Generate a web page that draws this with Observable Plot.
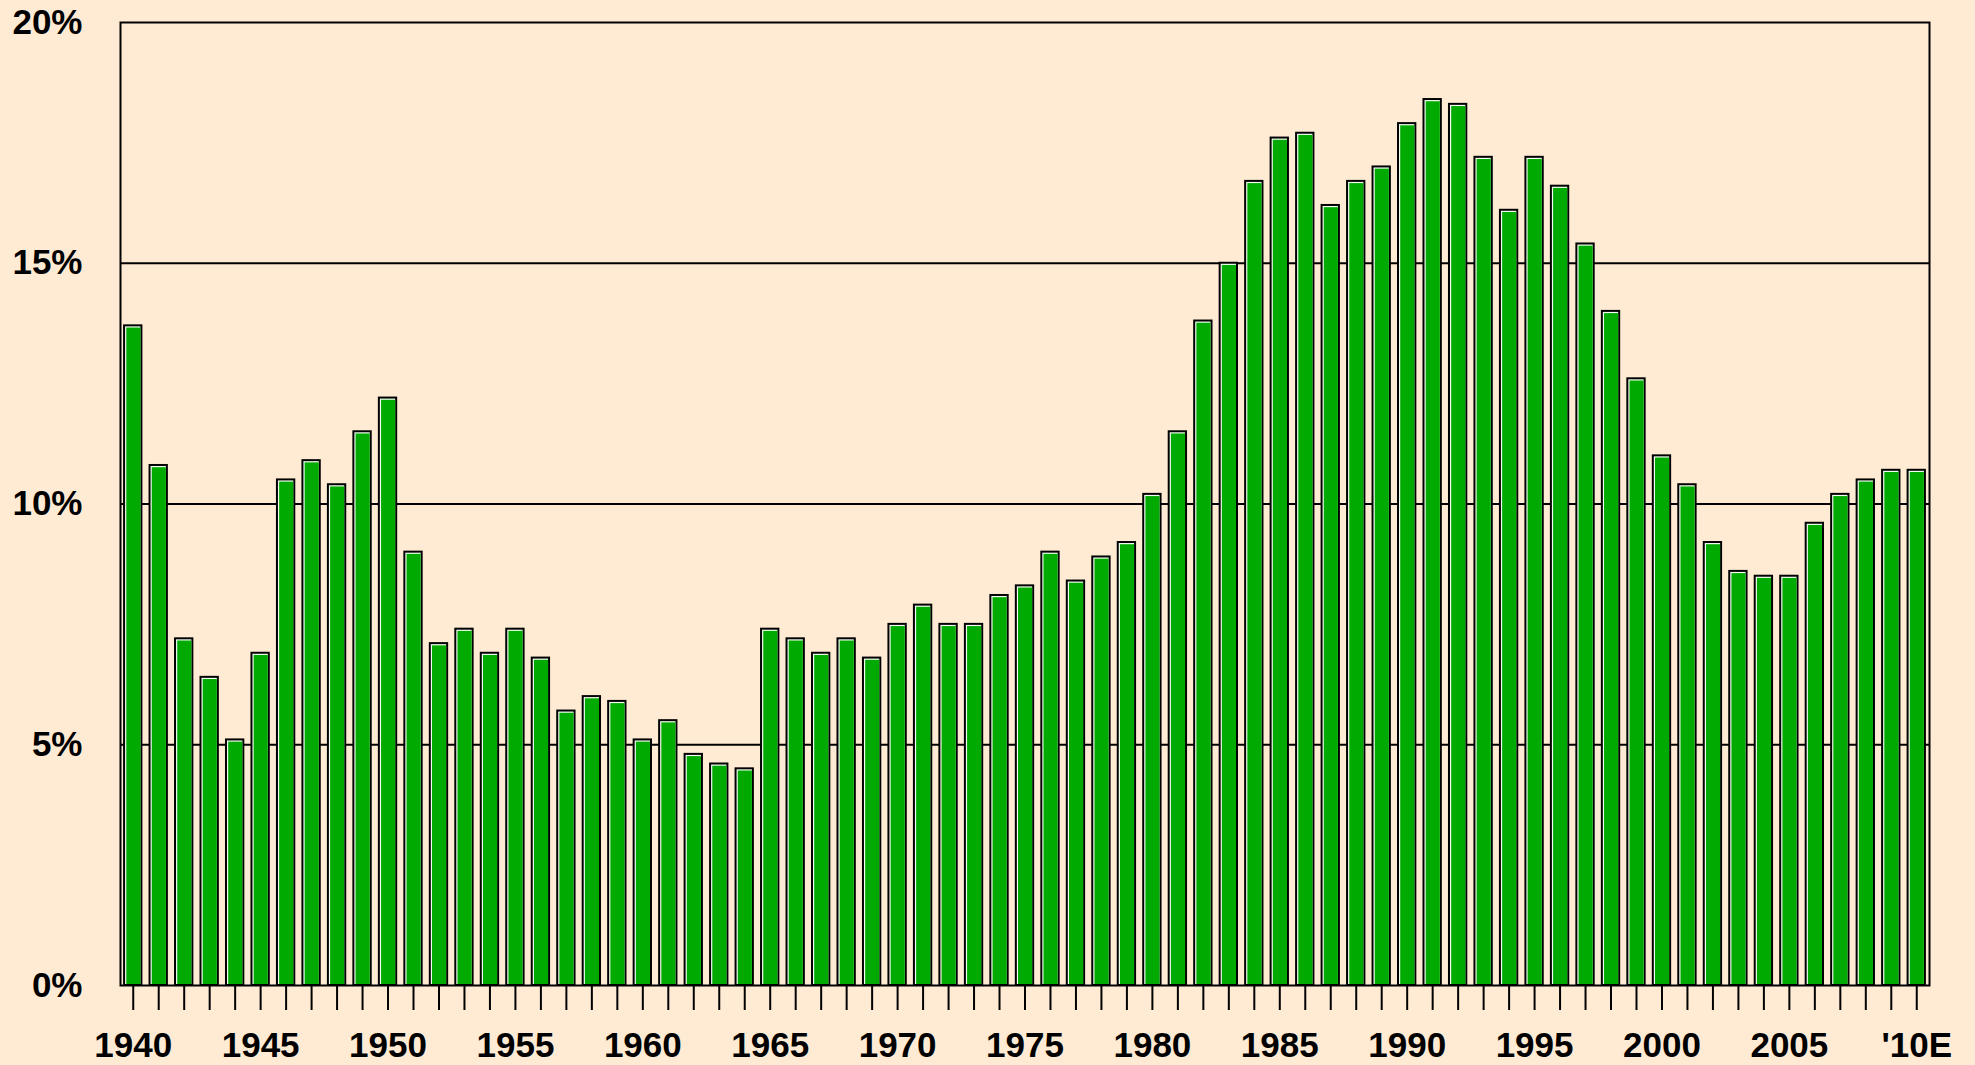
<!DOCTYPE html>
<html>
<head>
<meta charset="utf-8">
<script src="https://cdn.jsdelivr.net/npm/d3@7"></script>
<script src="https://cdn.jsdelivr.net/npm/@observablehq/plot@0.6"></script>
<style>
  html, body { margin: 0; padding: 0; background: #FFEBD4; }
  #chart { width: 1975px; height: 1065px; }
</style>
</head>
<body>
<div id="chart"></div>
<script>
const years = d3.range(1940, 2011);
const values = [
  13.7, 10.8, 7.2, 6.4, 5.1, 6.9, 10.5, 10.9, 10.4, 11.5,
  12.2, 9.0, 7.1, 7.4, 6.9, 7.4, 6.8, 5.7, 6.0, 5.9,
  5.1, 5.5, 4.8, 4.6, 4.5, 7.4, 7.2, 6.9, 7.2, 6.8,
  7.5, 7.9, 7.5, 7.5, 8.1, 8.3, 9.0, 8.4, 8.9, 9.2,
  10.2, 11.5, 13.8, 15.0, 16.7, 17.6, 17.7, 16.2, 16.7, 17.0,
  17.9, 18.4, 18.3, 17.2, 16.1, 17.2, 16.6, 15.4, 14.0, 12.6,
  11.0, 10.4, 9.2, 8.6, 8.5, 8.5, 9.6, 10.2, 10.5, 10.7,
  10.7
];
const yTicks = [0, 5, 10, 15, 20];
const gridValues = [5, 10, 15];
const labelFor = (y) => y === 2010 ? "'10E" : (y % 5 === 0 ? String(y) : "");

const data = years.map((year, i) => ({year, value: values[i]}));

const chart = Plot.plot({
  width: 1975,
  height: 1065,
  marginLeft: 120,
  marginRight: 46,
  marginTop: 22,
  marginBottom: 80,
  style: {
    background: "#FFEBD4",
    fontFamily: "'Liberation Sans', Arial, sans-serif",
    fontWeight: "bold",
    fontSize: "35px",
    color: "#000"
  },
  x: {type: "band", domain: years, paddingInner: 0.32, paddingOuter: 0.16, label: null},
  y: {domain: [0, 20], label: null},
  marks: [
    Plot.ruleY(gridValues, {stroke: "#000", strokeWidth: 2}),
    Plot.barY(data, {x: "year", y: "value", fill: "#f2fff2", stroke: "#000", strokeWidth: 2}),
    Plot.barY(data, {x: "year", y: "value", fill: "#00AA00", insetLeft: 2.2, insetTop: 2.2, insetRight: 1, insetBottom: 1}),
    Plot.frame({stroke: "#000", strokeWidth: 2}),
    Plot.axisY({ticks: yTicks, tickSize: 0, tickPadding: 38, tickFormat: d => d + "%", fontSize: 35, label: null}),
    Plot.axisX({tickSize: 25, tickPadding: 22, strokeWidth: 2, tickFormat: labelFor, fontSize: 35, label: null})
  ]
});
document.getElementById("chart").appendChild(chart);
</script>
</body>
</html>
